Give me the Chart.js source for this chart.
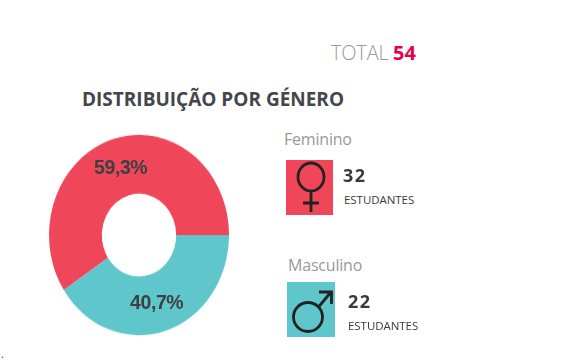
<!DOCTYPE html>
<html>
<head>
<meta charset="utf-8">
<script src="https://cdn.jsdelivr.net/npm/chart.js@4"></script>
<style>
    html, body { margin: 0; padding: 0; background: #fff; }
    #page { position: relative; width: 570px; height: 360px; overflow: hidden; font-family: 'Open Sans', sans-serif; }
    #page div, #page svg { position: absolute; white-space: nowrap; }
    #wrap { left: 49px; top: 145px; width: 180px; height: 180px; transform: scaleY(1.113); }
    .pct { font: bold 19.5px 'Liberation Sans', sans-serif; color: #3d3f42; letter-spacing: -.4px; }
    .name { font-size: 16px; color: #999; letter-spacing: -.2px; }
    .count { font-size: 18px; font-weight: 700; color: #38393b; letter-spacing: 1.5px; }
    .unit { font-size: 11.5px; color: #3a3a3a; letter-spacing: -.05px; }
    .box { width: 47px; height: 55px; }
</style>
</head>
<body>
<div id="page">
    <div id="total" style="left:331px;top:39px;font-size:20px;color:#9a9a9a;letter-spacing:-.2px;font-weight:300"></div>
    <div id="totalNum" style="left:393px;top:39px;font-size:20px;font-weight:700;color:#e6004c"></div>
    <div style="left:82px;top:86px;font-size:19px;font-weight:700;color:#45464a;letter-spacing:0">DISTRIBUIÇÃO POR GÉNERO</div>

    <div id="wrap"><canvas id="donut" width="180" height="180"></canvas></div>
    <div class="pct" id="pct0" style="left:94px;top:156px"></div>
    <div class="pct" id="pct1" style="left:130px;top:291px"></div>

    <div class="name" id="name0" style="left:284px;top:128px"></div>
    <div class="box" style="left:286px;top:160px;background:#f0465a"></div>
    <svg style="left:286px;top:160px" width="47" height="55" viewBox="0 0 47 55" fill="none" stroke="#222" stroke-width="2.8">
        <ellipse cx="25" cy="17" rx="13" ry="14"/>
        <path d="M25 31V52M17 43H33"/>
    </svg>
    <div class="count" id="count0" style="left:343px;top:163px"></div>
    <div class="unit" id="unit0" style="left:344px;top:192px"></div>

    <div class="name" id="name1" style="left:288px;top:254px"></div>
    <div class="box" style="left:287px;top:282px;background:#5fc7cb;width:48px"></div>
    <svg style="left:287px;top:282px" width="48" height="55" viewBox="0 0 48 55" fill="none" stroke="#222" stroke-width="2.8">
        <circle cx="21" cy="35" r="14.5"/>
        <path d="M31.5 25L44 10M32 10H44.5V22"/>
    </svg>
    <div class="count" id="count1" style="left:348px;top:289px"></div>
    <div class="unit" id="unit1" style="left:348px;top:318px"></div>

    <div style="left:1px;top:346px;font-size:11px;color:#333">.</div>
</div>
<script>
const categories = ['Feminino', 'Masculino'];
const counts = [32, 22];
const percentLabels = ['59,3%', '40,7%'];
const colors = ['#f0465a', '#5fc7cb'];
const totalCount = 54;
const unitLabel = 'ESTUDANTES';

document.getElementById('total').textContent = 'TOTAL';
document.getElementById('totalNum').textContent = totalCount;
categories.forEach((name, i) => {
    document.getElementById('name' + i).textContent = name;
    document.getElementById('count' + i).textContent = counts[i];
    document.getElementById('unit' + i).textContent = unitLabel;
    document.getElementById('pct' + i).textContent = percentLabels[i];
});

new Chart(document.getElementById('donut'), {
    type: 'doughnut',
    data: {
        labels: categories,
        datasets: [{ data: counts, backgroundColor: colors, borderWidth: 0 }],
    },
    options: {
        responsive: false,
        animation: false,
        cutout: '41.3%',
        rotation: 236.6,
        plugins: { legend: { display: false }, tooltip: { enabled: false } },
    },
});
</script>
</body>
</html>
